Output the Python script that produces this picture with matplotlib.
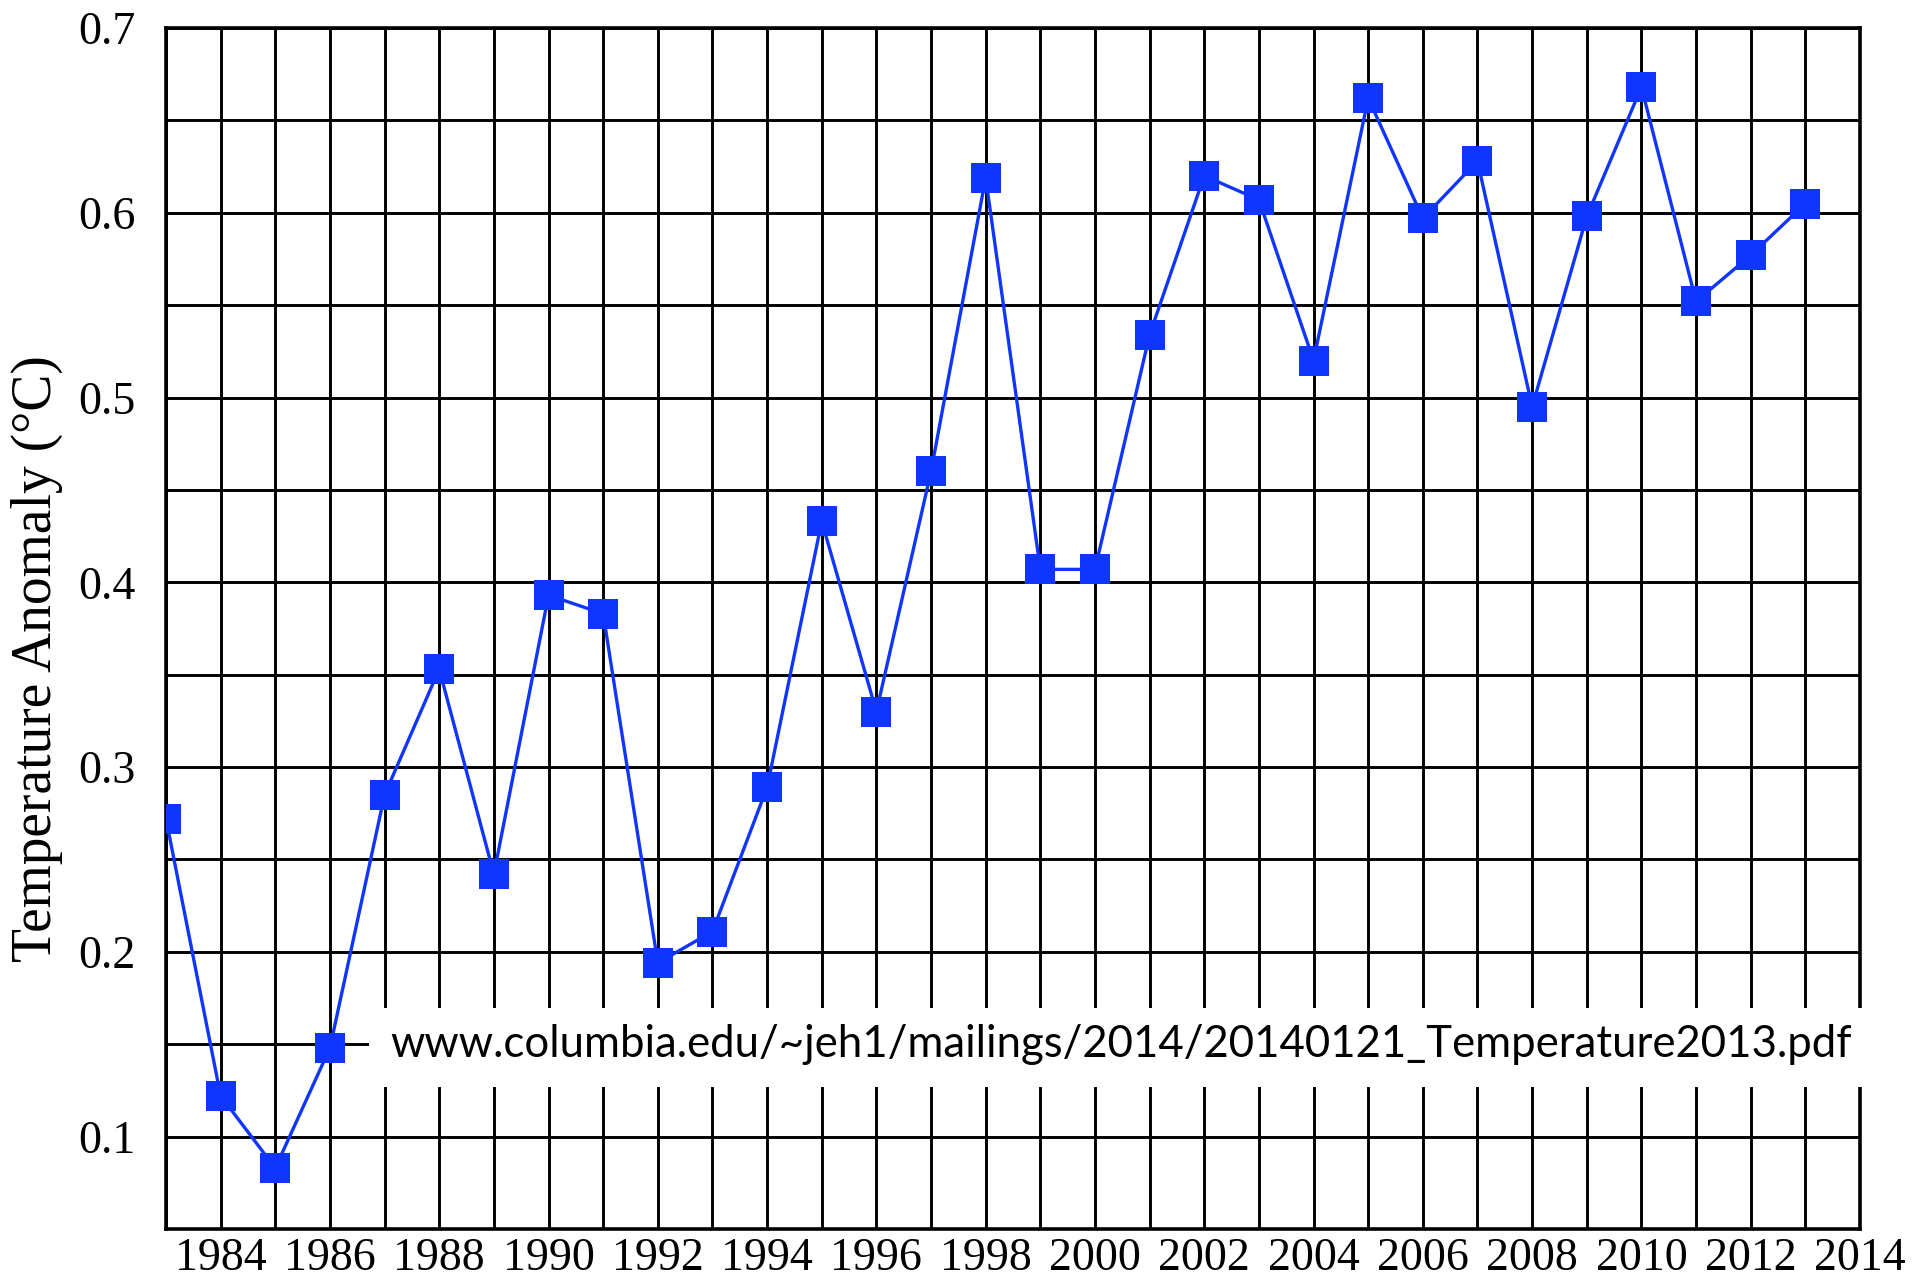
import matplotlib
matplotlib.use("Agg")
import matplotlib.pyplot as plt
from matplotlib.patches import Rectangle
import numpy as np

years = list(range(1983, 2014))
anomaly = [0.272, 0.122, 0.083, 0.148, 0.285, 0.353, 0.242, 0.393, 0.383, 0.194,
           0.211, 0.289, 0.433, 0.330, 0.460, 0.619, 0.407, 0.407, 0.534, 0.620,
           0.607, 0.520, 0.662, 0.597, 0.628, 0.495, 0.598, 0.668, 0.552, 0.577,
           0.605]
xtick_labels = [str(y) for y in range(1984, 2015, 2)]
ytick_values = [0.1, 0.2, 0.3, 0.4, 0.5, 0.6, 0.7]
ylabel = "Temperature Anomaly (°C)"
source = "www.columbia.edu/~jeh1/mailings/2014/20140121_Temperature2013.pdf"

W, H = 1917, 1281
fig = plt.figure(figsize=(W / 100, H / 100), dpi=100)
L, R, T, B = 166, 1860, 28, 1229
ax = fig.add_axes([L / W, 1 - B / H, (R - L) / W, (B - T) / H])

ax.set_xlim(1983, 2014)
ax.set_ylim(0.05, 0.7)

ax.set_xticks(np.arange(1983, 2015, 1), minor=True)
ax.set_yticks(np.arange(0.05, 0.7001, 0.05), minor=True)
ax.set_xticks(range(1984, 2015, 2))
ax.set_xticklabels(xtick_labels)
ax.set_yticks(ytick_values)
ax.set_yticklabels([f"{v:.1f}" for v in ytick_values])

ax.grid(True, which="both", color="black", linewidth=2.1)
ax.set_axisbelow(True)
ax.tick_params(which="both", length=0)
ax.tick_params(axis="x", pad=6)
ax.tick_params(axis="y", pad=22)
for lab in ax.get_xticklabels() + ax.get_yticklabels():
    lab.set_fontfamily("Liberation Serif")
    lab.set_fontsize(33)
for s in ax.spines.values():
    s.set_linewidth(2.6)
    s.set_color("black")

ax.plot(years, anomaly, color="#1035FF", linewidth=2.4, marker="s",
        markersize=21, markerfacecolor="#1035FF", markeredgewidth=0, zorder=5)

fig.text(37 / W, 1 - 659 / H, ylabel, family="Liberation Serif", fontsize=40,
         rotation=90, ha="center", va="center")

# white box with source text (covers grid and right spine)
bx0 = (369 - L) / (R - L)
by0 = (B - 1087) / (B - T)
by1 = (B - 1008) / (B - T)
ax.add_patch(Rectangle((bx0, by0), 1.02 - bx0, by1 - by0, transform=ax.transAxes,
                       facecolor="white", edgecolor="none", zorder=3, clip_on=False))
ax.text((390 - L) / (R - L), 0.15, source, fontsize=31.5, family="Lato",
        va="center", ha="left", zorder=4,
        transform=ax.get_yaxis_transform())

fig.savefig("out.png", dpi=100)
